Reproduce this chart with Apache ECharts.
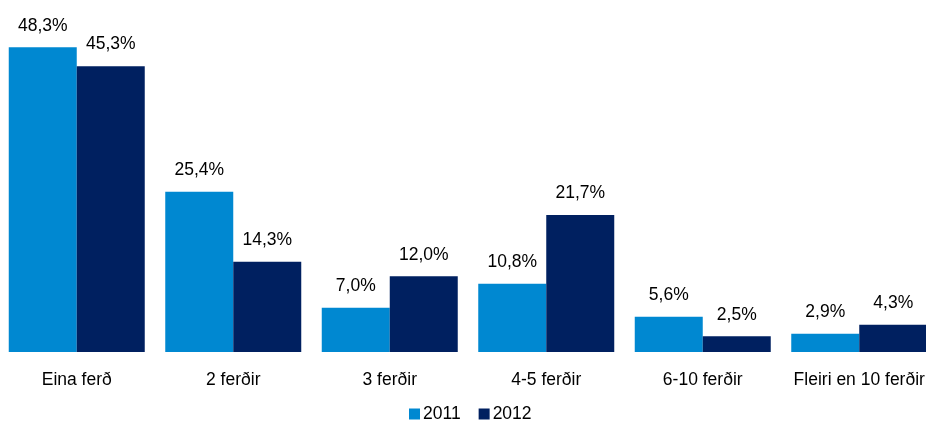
<!DOCTYPE html>
<html>
<head>
<meta charset="utf-8">
<script src="https://cdn.jsdelivr.net/npm/echarts@6/dist/echarts.min.js"></script>
<style>
  html, body { margin: 0; padding: 0; background: #fff; }
  #chart { width: 926px; height: 425px; }
</style>
</head>
<body>
<div id="chart"></div>
<script>
const categories = ['Eina ferð', '2 ferðir', '3 ferðir', '4-5 ferðir', '6-10 ferðir', 'Fleiri en 10 ferðir'];
const seriesNames = ['2011', '2012'];
const values2011 = [48.3, 25.4, 7.0, 10.8, 5.6, 2.9];
const values2012 = [45.3, 14.3, 12.0, 21.7, 2.5, 4.3];
const colors = ['#0088D1', '#002060'];

const fontFamily = '"Liberation Sans", Arial, sans-serif';
const fontSize = 17.5;
const fmt = p => p.value.toFixed(1).replace('.', ',') + '%';

const chart = echarts.init(document.getElementById('chart'));
chart.setOption({
  animation: false,
  textStyle: { fontFamily: fontFamily },
  grid: { left: -1.5, width: 939, top: 36.5, bottom: 73, containLabel: false, outerBoundsMode: 'none' },
  legend: {
    top: 400,
    left: 404,
    itemWidth: 11,
    itemHeight: 11,
    itemGap: 18,
    icon: 'rect',
    textStyle: { fontSize: fontSize, color: '#000', fontFamily: fontFamily, padding: [0, 0, 0, -2] },
    data: seriesNames
  },
  xAxis: {
    type: 'category',
    data: categories,
    axisLine: { show: false },
    axisTick: { show: false },
    axisLabel: { fontSize: fontSize, color: '#000', margin: 19, interval: 0, fontFamily: fontFamily }
  },
  yAxis: {
    type: 'value',
    min: 0,
    max: 50,
    show: false,
    splitLine: { show: false }
  },
  series: [
    {
      name: seriesNames[0],
      type: 'bar',
      data: values2011,
      barWidth: 68,
      barGap: '0%',
      itemStyle: { color: colors[0] },
      label: { show: true, position: 'top', distance: 12.5, fontSize: fontSize, color: '#000', fontFamily: fontFamily, formatter: fmt }
    },
    {
      name: seriesNames[1],
      type: 'bar',
      data: values2012,
      barWidth: 68,
      barGap: '0%',
      itemStyle: { color: colors[1] },
      label: { show: true, position: 'top', distance: 12.5, fontSize: fontSize, color: '#000', fontFamily: fontFamily, formatter: fmt }
    }
  ]
});
</script>
</body>
</html>
